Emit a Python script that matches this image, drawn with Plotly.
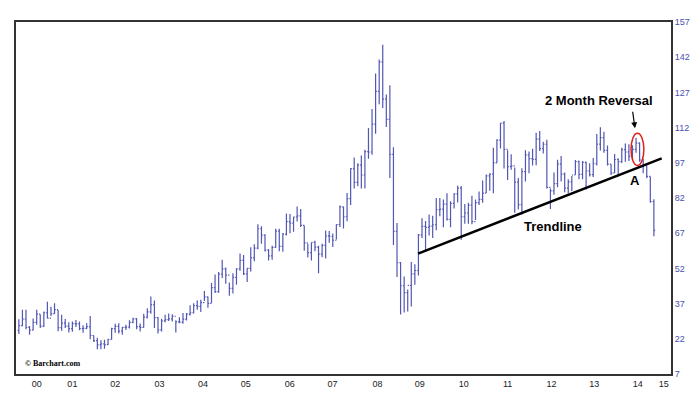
import plotly.graph_objects as go

# monthly crude oil bars, Jan 2000 .. Nov 2014 (month index 0..178)
close = [
    27.6, 30.4, 26.9, 25.7, 29.0, 32.5, 27.4, 33.1, 30.8, 32.7, 34.4, 26.8,
    28.7, 27.4, 26.3, 28.5, 28.4, 26.3, 26.4, 27.2, 23.4, 21.2, 19.4, 19.8,
    19.5, 21.7, 26.3, 27.3, 25.3, 26.9, 27.0, 29.0, 30.5, 27.2, 26.9, 31.2,
    33.5, 36.6, 31.0, 25.8, 29.6, 30.2, 30.5, 31.6, 29.2, 29.1, 30.4, 32.5,
    33.1, 36.2, 35.8, 37.4, 39.9, 37.1, 43.8, 42.1, 49.6, 51.8, 49.1, 43.5,
    48.2, 51.8, 55.4, 49.7, 52.0, 56.5, 60.6, 68.9, 66.2, 59.8, 57.3, 61.0,
    67.9, 61.4, 66.6, 71.9, 71.3, 73.9, 74.4, 70.3, 62.9, 58.7, 63.1, 61.1,
    58.1, 61.8, 65.9, 65.7, 64.0, 70.7, 78.2, 74.0, 81.7, 94.5, 88.7, 96.0,
    91.8, 101.8, 101.6, 113.5, 127.4, 140.0, 124.1, 115.5, 100.6, 67.8, 54.4, 44.6,
    41.7, 44.8, 49.7, 51.1, 66.3, 69.9, 69.5, 70.0, 70.6, 77.0, 77.3, 79.4,
    72.9, 79.7, 83.8, 86.2, 74.0, 75.6, 79.0, 71.9, 80.0, 81.4, 84.1, 91.4,
    92.2, 97.0, 106.7, 113.9, 102.7, 95.4, 95.7, 88.8, 79.2, 93.2, 100.4, 98.8,
    98.5, 107.1, 103.0, 104.9, 86.5, 85.0, 88.1, 96.5, 92.2, 86.2, 88.9, 91.8,
    97.5, 92.1, 97.2, 93.5, 92.0, 96.6, 105.0, 107.7, 102.3, 96.4, 92.7, 98.4,
    97.5, 102.6, 101.6, 99.7, 102.7, 105.4, 98.2, 96.0, 91.2, 80.5, 68.2,
]
high = [
    30.3, 34.4, 34.4, 27.5, 30.6, 34.4, 32.4, 33.6, 37.8, 35.7, 37.2, 34.3,
    32.2, 30.4, 29.0, 29.4, 30.0, 29.4, 27.8, 28.6, 31.7, 23.4, 22.4, 21.4,
    21.6, 22.0, 26.7, 28.4, 28.6, 27.0, 28.0, 29.9, 31.0, 30.9, 28.5, 32.7,
    35.0, 40.0, 38.3, 31.3, 30.5, 32.3, 32.8, 32.5, 29.9, 31.2, 33.0, 33.0,
    36.3, 37.1, 38.4, 38.6, 42.4, 40.0, 45.8, 49.4, 50.5, 55.7, 52.4, 46.0,
    49.9, 52.1, 58.3, 57.7, 52.1, 61.0, 62.3, 70.8, 70.0, 66.6, 60.3, 61.7,
    68.9, 68.9, 67.1, 75.4, 75.2, 74.0, 78.4, 77.3, 70.3, 62.5, 62.9, 63.8,
    61.6, 62.5, 68.1, 67.9, 66.9, 70.8, 78.8, 78.4, 84.1, 94.7, 99.3, 96.8,
    100.1, 102.6, 111.8, 119.9, 135.1, 141.0, 147.3, 126.1, 130.0, 103.6, 71.3, 54.7,
    48.6, 43.0, 54.7, 53.8, 66.7, 73.4, 72.2, 75.0, 74.4, 82.0, 82.0, 81.4,
    84.0, 80.6, 84.0, 87.2, 87.1, 79.4, 80.0, 83.0, 81.4, 84.8, 89.5, 92.0,
    92.6, 103.4, 107.0, 113.9, 114.8, 102.4, 100.6, 95.0, 90.5, 94.7, 102.4, 101.8,
    103.0, 109.8, 110.6, 106.0, 106.8, 86.0, 92.9, 98.3, 99.9, 92.9, 90.0, 91.4,
    98.2, 98.0, 97.8, 97.6, 96.8, 99.0, 109.3, 112.2, 110.2, 104.4, 96.4, 100.7,
    98.9, 103.4, 105.2, 104.9, 104.5, 107.7, 105.8, 98.7, 95.9, 91.2, 81.5,
]
low = [
    24.0, 27.3, 26.1, 23.7, 25.6, 28.0, 26.6, 27.0, 30.6, 31.7, 32.6, 25.2,
    25.4, 26.6, 24.7, 25.0, 27.0, 25.6, 24.6, 26.1, 21.8, 20.6, 17.5, 17.6,
    17.8, 19.4, 21.7, 24.6, 24.3, 23.7, 25.8, 26.4, 28.6, 26.1, 25.1, 26.8,
    30.6, 32.7, 26.6, 24.3, 25.1, 29.0, 29.6, 29.4, 24.7, 28.6, 28.4, 29.8,
    31.9, 32.8, 34.4, 33.4, 38.1, 35.2, 37.4, 41.5, 41.6, 47.9, 45.5, 40.3,
    41.3, 45.0, 51.0, 49.2, 46.2, 50.7, 55.0, 60.2, 62.5, 59.2, 55.4, 55.7,
    60.8, 59.3, 59.1, 66.0, 67.0, 67.6, 72.0, 69.6, 59.5, 56.6, 55.4, 59.3,
    49.9, 56.8, 56.2, 62.9, 61.1, 64.3, 69.6, 69.0, 72.1, 79.0, 86.0, 87.0,
    86.1, 86.1, 98.7, 100.4, 109.4, 122.0, 120.4, 112.3, 90.5, 62.0, 48.3, 32.4,
    33.2, 33.6, 35.8, 45.0, 49.0, 65.0, 59.0, 66.0, 65.0, 68.3, 74.2, 69.5,
    72.4, 69.5, 77.5, 80.1, 64.2, 71.0, 71.0, 70.8, 72.6, 79.0, 80.0, 84.1,
    85.1, 84.0, 97.0, 103.1, 94.6, 89.7, 94.0, 75.7, 77.1, 74.9, 89.0, 92.5,
    95.8, 96.0, 102.0, 101.0, 86.1, 77.3, 83.4, 86.6, 89.0, 84.5, 84.0, 85.0,
    91.9, 90.0, 90.0, 85.6, 91.2, 91.0, 95.9, 102.2, 101.3, 95.9, 91.8, 92.7,
    91.2, 96.9, 97.4, 97.8, 98.3, 101.3, 97.4, 92.5, 90.4, 80.0, 65.7,
]
open_ = [25.6] + close[:-1]
months = list(range(len(close)))

year_labels = ["00", "01", "02", "03", "04", "05", "06", "07",
               "08", "09", "10", "11", "12", "13", "14", "15"]
year_pos = [5, 15, 27, 39.4, 51.6, 63.6, 75.9, 87.9,
            100.5, 112.4, 124.7, 137, 149.3, 161.3, 173.5, 180.8]
price_ticks = [7, 22, 37, 52, 67, 82, 97, 112, 127, 142, 157]

trend_x = [111.9, 180.2]
trend_y = [58.3, 98.9]

bar_color = "#5257b4"

fig = go.Figure()
fig.add_trace(go.Ohlc(
    x=months, open=open_, high=high, low=low, close=close,
    increasing=dict(line=dict(color=bar_color, width=1.2)),
    decreasing=dict(line=dict(color=bar_color, width=1.2)),
    tickwidth=0.35, showlegend=False,
))
fig.add_trace(go.Scatter(
    x=trend_x, y=trend_y, mode="lines",
    line=dict(color="black", width=2.5), showlegend=False, hoverinfo="skip",
))

fig.add_shape(type="circle", xref="x", yref="y",
              x0=171.6, x1=175.2, y0=95.9, y1=109.6,
              line=dict(color="#e0201c", width=1.5))

fig.add_annotation(x=172.7, y=111.7, ax=172.0, ay=119.4, axref="x", ayref="y",
                   text="", showarrow=True, arrowhead=2, arrowsize=1,
                   arrowwidth=1.2, arrowcolor="black")
fig.add_annotation(x=162.5, y=123.5, text="<b>2 Month Reversal</b>", showarrow=False,
                   font=dict(family="Arial", size=13, color="black"))
fig.add_annotation(x=172.7, y=89.5, text="<b>A</b>", showarrow=False,
                   font=dict(family="Arial", size=13, color="black"))
fig.add_annotation(x=149.8, y=69.8, text="<b>Trendline</b>", showarrow=False,
                   font=dict(family="Arial", size=13, color="black"))
fig.add_annotation(x=0.01, y=0.03, xref="paper", yref="paper",
                   xanchor="left", yanchor="middle", showarrow=False,
                   text="<b>© Barchart.com</b>",
                   font=dict(family="Liberation Serif", size=8, color="black"))

fig.update_layout(
    width=700, height=402,
    margin=dict(l=6, r=37, t=14, b=36),
    paper_bgcolor="white", plot_bgcolor="white",
    xaxis=dict(
        range=[-0.8, 182.8], rangeslider=dict(visible=False),
        tickvals=year_pos, ticktext=year_labels, ticks="",
        showgrid=False, zeroline=False,
        showline=True, linecolor="#333", linewidth=2, mirror=True,
        tickfont=dict(family="Arial", size=9, color="#222"),
    ),
    yaxis=dict(
        range=[7, 157], side="right", tickvals=price_ticks,
        showgrid=False, zeroline=False, ticks="",
        showline=True, linecolor="#333", linewidth=2, mirror=True,
        tickfont=dict(family="Arial", size=9, color="#4a4fb0"),
    ),
)

fig.write_html("out.html")
